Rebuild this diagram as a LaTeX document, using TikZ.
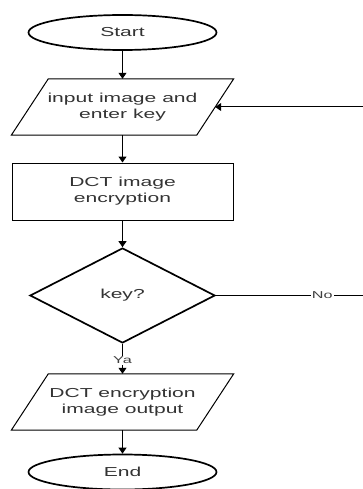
\documentclass[tikz,border=0pt]{standalone}
\usepackage{fontspec}
\setmainfont{Liberation Sans}[FakeStretch=1.62]
\usetikzlibrary{shapes.geometric,arrows.meta}
\begin{document}
\begin{tikzpicture}[x=1pt,y=1pt,
  txt/.style={text=black!80, font=\fontsize{13}{16}\selectfont, align=center},
  term/.style={ellipse, draw, line width=1.7pt, minimum width=188, minimum height=35, inner sep=0pt, txt},
  proc/.style={rectangle, draw, line width=1pt, minimum width=221, minimum height=57, inner sep=0pt, txt},
  iobox/.style={rectangle, minimum width=185, minimum height=56, inner sep=0pt, txt},
  dec/.style={diamond, draw, line width=1.7pt, minimum width=185, minimum height=95, inner sep=0pt, aspect=2, txt},
  para/.style={draw, line width=1pt, line join=miter},
  arr/.style={draw, line width=1pt, -{Triangle[width=8pt,length=6pt]}},
  lbl/.style={fill=white, inner sep=1pt, text=black!75, font=\fontsize{10}{12}\selectfont}]
\useasboundingbox (0,0) rectangle (362,-489);

\node[term] (start) at (122.5,-32.5) {Start};
\node[iobox] (in) at (122.5,-107) {input image and\\enter key};
\draw[para] ([xshift=18.5]in.north west) -- ([xshift=18.5]in.north east) -- ([xshift=-18.5]in.south east) -- ([xshift=-18.5]in.south west) -- cycle;
\node[proc] (enc) at (122.5,-191.5) {DCT image\\encryption};
\node[dec] (key) at (122.5,-295.5) {key?};
\node[iobox] (out) at (122.5,-402) {DCT encryption\\image output};
\draw[para] ([xshift=18.5]out.north west) -- ([xshift=18.5]out.north east) -- ([xshift=-18.5]out.south east) -- ([xshift=-18.5]out.south west) -- cycle;
\node[term] (end) at (122.5,-472) {End};

\coordinate (corner) at (372,-295.5);

\draw[arr] (start) -- (in);
\draw[arr] (in) -- (enc);
\draw[arr] (enc) -- (key);
\draw[arr] (key) -- node[lbl, pos=0.55] {Ya} (out);
\draw[arr] (out) -- (end);
\draw[arr] (key.east) -- node[lbl, pos=0.682] {No} (corner) |- (in.east);
\end{tikzpicture}
\end{document}
